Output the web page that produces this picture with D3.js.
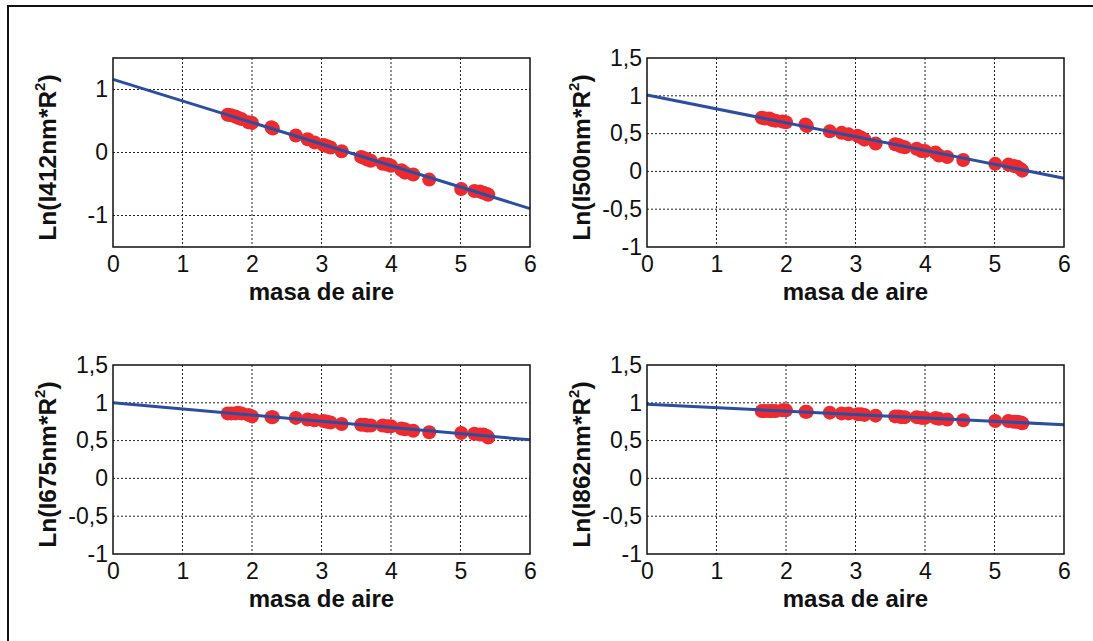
<!DOCTYPE html>
<html>
<head>
<meta charset="utf-8">
<script src="https://cdn.jsdelivr.net/npm/d3@7"></script>
<style>
  body { margin: 0; background: #fff; }
  svg { display: block; font-family: "Liberation Sans", Arial, sans-serif; }
</style>
</head>
<body>
<svg id="chart"></svg>
<script>
const width = 1093;
const height = 641;

// masa de aire (mismas medidas en los cuatro paneles)
const airMass = [1.65, 1.70, 1.76, 1.80, 1.85, 1.95, 2.00, 2.28, 2.30, 2.63, 2.80, 2.90, 3.03, 3.08, 3.13, 3.29,
                 3.57, 3.62, 3.66, 3.71, 3.88, 3.95, 4.00, 4.15, 4.20, 4.32, 4.55, 5.01, 5.20, 5.28, 5.33, 5.38, 5.40];

const ln412 = [0.60, 0.59, 0.57, 0.55, 0.53, 0.48, 0.47, 0.40, 0.38, 0.27, 0.21, 0.16, 0.12, 0.10, 0.08, 0.02,
               -0.07, -0.09, -0.11, -0.13, -0.18, -0.19, -0.21, -0.28, -0.32, -0.35, -0.43, -0.58, -0.61, -0.62, -0.64, -0.66, -0.67];
const ln500 = [0.71, 0.70, 0.70, 0.68, 0.67, 0.66, 0.65, 0.62, 0.60, 0.53, 0.51, 0.49, 0.47, 0.45, 0.42, 0.37,
               0.36, 0.35, 0.33, 0.32, 0.30, 0.27, 0.27, 0.25, 0.21, 0.19, 0.15, 0.10, 0.09, 0.07, 0.06, 0.03, 0.01];
const ln675 = [0.86, 0.86, 0.86, 0.87, 0.86, 0.84, 0.82, 0.81, 0.81, 0.80, 0.78, 0.77, 0.76, 0.75, 0.74, 0.72,
               0.71, 0.71, 0.70, 0.70, 0.70, 0.69, 0.69, 0.66, 0.65, 0.63, 0.61, 0.60, 0.59, 0.58, 0.58, 0.56, 0.54];
const ln862 = [0.89, 0.89, 0.89, 0.89, 0.89, 0.90, 0.90, 0.88, 0.88, 0.87, 0.86, 0.86, 0.85, 0.85, 0.84, 0.83,
               0.82, 0.82, 0.81, 0.81, 0.81, 0.80, 0.80, 0.80, 0.79, 0.78, 0.77, 0.76, 0.76, 0.75, 0.75, 0.74, 0.73];

// recta de ajuste: valores en masa de aire 0 y 6
const fitX = [0, 6];
const fit412 = [1.16, -0.89];
const fit500 = [1.01, -0.09];
const fit675 = [1.00, 0.51];
const fit862 = [0.98, 0.71];

const xTicks = [0, 1, 2, 3, 4, 5, 6];
const yTicks412 = [-1, 0, 1];
const yTicksOther = [-1, -0.5, 0, 0.5, 1, 1.5];

const wavelengths = ["412", "500", "675", "862"];
const xLabel = "masa de aire";

const plotW = 417;
const plotH = 189;
const red = "#ee2a2e";
const blue = "#2c4ea0";

let svg = d3.select("#chart")
    .attr("width", width)
    .attr("height", height);

// marco exterior (solo se ven los bordes superior e izquierdo)
svg.append("rect")
    .attr("x", 8).attr("y", 6)
    .attr("width", 1200).attr("height", 800)
    .attr("fill", "none")
    .attr("stroke", "#111")
    .attr("stroke-width", 2);

const panels = [
    { wl: wavelengths[0], ys: ln412, fit: fit412, domain: [-1.5, 1.5], ticks: yTicks412, left: 113, top: 58 },
    { wl: wavelengths[1], ys: ln500, fit: fit500, domain: [-1, 1.5], ticks: yTicksOther, left: 647, top: 58 },
    { wl: wavelengths[2], ys: ln675, fit: fit675, domain: [-1, 1.5], ticks: yTicksOther, left: 113, top: 365 },
    { wl: wavelengths[3], ys: ln862, fit: fit862, domain: [-1, 1.5], ticks: yTicksOther, left: 647, top: 365 }
];

const fmt = v => String(v).replace(".", ",");

panels.forEach(p => drawPanel(p));

function drawPanel(p) {
    let g = svg.append("g")
        .attr("transform", `translate(${p.left}, ${p.top})`);

    let scX = d3.scaleLinear().domain([0, 6]).range([0, plotW]);
    let scY = d3.scaleLinear().domain(p.domain).range([plotH, 0]);

    // rejilla punteada
    g.append("g")
        .selectAll("line")
        .data(xTicks.slice(1, -1))
        .enter()
        .append("line")
        .attr("x1", d => scX(d)).attr("x2", d => scX(d))
        .attr("y1", 0).attr("y2", plotH)
        .attr("stroke", "#222")
        .attr("stroke-width", 1)
        .attr("stroke-dasharray", "2,2");

    g.append("g")
        .selectAll("line")
        .data(p.ticks.filter(d => d > p.domain[0] && d < p.domain[1]))
        .enter()
        .append("line")
        .attr("x1", 0).attr("x2", plotW)
        .attr("y1", d => scY(d)).attr("y2", d => scY(d))
        .attr("stroke", "#222")
        .attr("stroke-width", 1)
        .attr("stroke-dasharray", "2,2");

    // ejes
    let axisX = d3.axisBottom(scX).tickValues(xTicks).tickSize(0).tickPadding(9).tickFormat(d => d);
    let axisY = d3.axisLeft(scY).tickValues(p.ticks).tickSize(0).tickPadding(5).tickFormat(fmt);

    let gx = g.append("g")
        .attr("transform", `translate(0, ${plotH})`)
        .call(axisX);
    let gy = g.append("g").call(axisY);

    [gx, gy].forEach(a => {
        a.select(".domain").remove();
        a.selectAll("text")
            .attr("font-family", "Liberation Sans, Arial, sans-serif")
            .attr("font-size", 23)
            .attr("fill", "#111");
    });

    // datos
    g.append("g")
        .selectAll("circle")
        .data(airMass.map((x, i) => [x, p.ys[i]]))
        .enter()
        .append("circle")
        .attr("cx", d => scX(d[0]))
        .attr("cy", d => scY(d[1]))
        .attr("r", 7)
        .attr("fill", red);

    // recta
    let line = d3.line()
        .x(d => scX(d[0]))
        .y(d => scY(d[1]));

    g.append("path")
        .datum(fitX.map((x, i) => [x, p.fit[i]]))
        .attr("d", line)
        .attr("fill", "none")
        .attr("stroke", blue)
        .attr("stroke-width", 3);

    // borde
    g.append("rect")
        .attr("width", plotW).attr("height", plotH)
        .attr("fill", "none")
        .attr("stroke", "#111")
        .attr("stroke-width", 1.5);

    // titulos de ejes
    g.append("text")
        .attr("x", plotW / 2)
        .attr("y", plotH + 53)
        .attr("text-anchor", "middle")
        .attr("font-size", 24)
        .attr("font-weight", "bold")
        .attr("fill", "#111")
        .text(xLabel);

    let yl = g.append("text")
        .attr("transform", `translate(-57, ${plotH / 2 + 5}) rotate(-90)`)
        .attr("text-anchor", "middle")
        .attr("font-size", 24.5)
        .attr("font-weight", "bold")
        .attr("fill", "#111");
    yl.append("tspan").text(`Ln(I${p.wl}nm*R`);
    yl.append("tspan").attr("font-size", 15).attr("dy", -11).text("2");
    yl.append("tspan").attr("dy", 11).text(")");
}
</script>
</body>
</html>
